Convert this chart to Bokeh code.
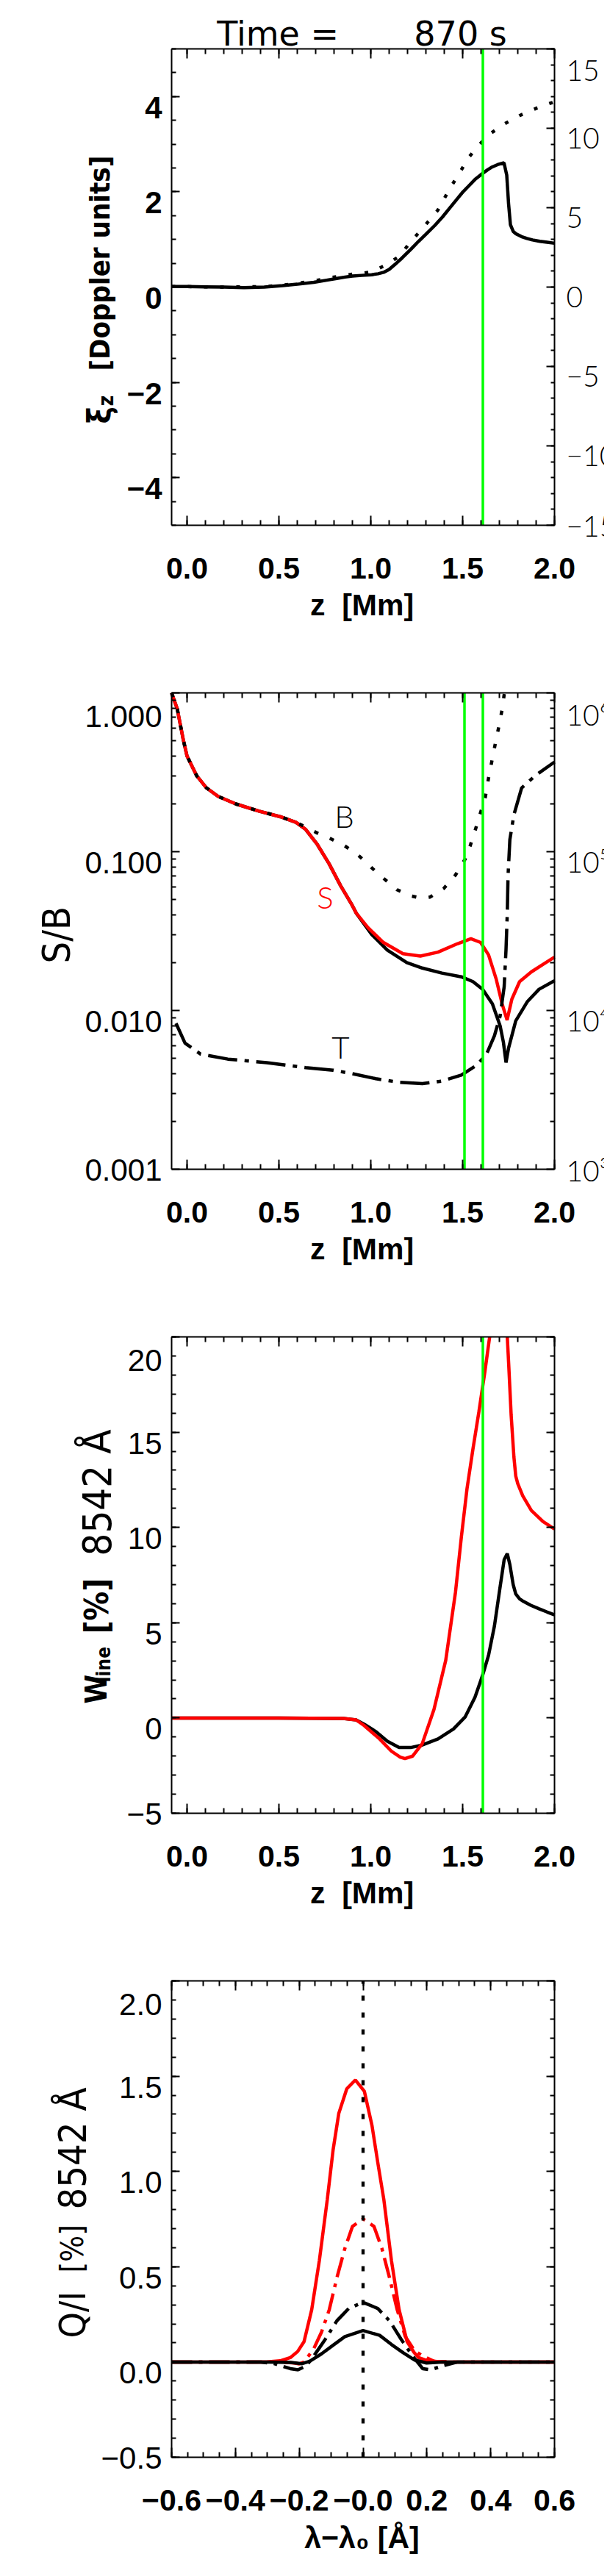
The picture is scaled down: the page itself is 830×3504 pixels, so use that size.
import math
from bokeh.plotting import figure
from bokeh.models import Range1d, LinearAxis, LogAxis, FixedTicker, Label, LogScale
from bokeh.layouts import column
from bokeh.embed import file_html
from bokeh.resources import INLINE

NAN = float("nan")

# ---------------- data ----------------
TITLE = "Time =\u00a0\u00a0\u00a0\u00a0\u00a0\u00a0\u00a0870 s"
Z_RANGE = (-0.084, 2.0)

# panel 1: xi_z (left axis, solid) and right-axis quantity (dotted)
P1_Z = [-0.084, 0.0, 0.1, 0.2, 0.31, 0.42, 0.52, 0.6, 0.69, 0.76, 0.815, 0.86, 0.9, 0.95, 1.005, 1.04, 1.07, 1.1,
        1.13, 1.17, 1.22, 1.26, 1.3, 1.35, 1.39, 1.43, 1.47, 1.5, 1.535, 1.57, 1.61, 1.635, 1.66, 1.69, 1.725, 1.74,
        1.75, 1.76, 1.775, 1.79, 1.82, 1.85, 1.88, 1.92, 1.96, 2.0]
P1_XI = [0.01, 0.01, 0.005, 0.0, -0.01, 0.0, 0.03, 0.06, 0.10, 0.145, 0.18, 0.21, 0.23, 0.245, 0.26, 0.28, 0.31, 0.37,
         0.47, 0.61, 0.80, 0.96, 1.11, 1.30, 1.47, 1.66, 1.85, 1.99, 2.13, 2.27, 2.39, 2.46, 2.52, 2.57, 2.61, 2.35,
         1.75, 1.31, 1.17, 1.12, 1.06, 1.02, 0.99, 0.96, 0.94, 0.92]
P1_ZD = [-0.084, 0.0, 0.2, 0.42, 0.52, 0.6, 0.69, 0.76, 0.815, 0.86, 0.9, 0.95, 1.005, 1.069, 1.154, 1.217, 1.281,
         1.366, 1.429, 1.482, 1.535, 1.588, 1.65, 1.725, 1.81, 1.905, 2.0]
P1_V = [0.03, 0.03, 0.0, 0.03, 0.12, 0.24, 0.39, 0.54, 0.66, 0.75, 0.81, 0.87, 0.96, 1.32, 1.92, 2.85, 3.69, 4.86,
        6.18, 7.17, 8.19, 8.94, 9.66, 10.26, 10.8, 11.28, 11.67]
P1_GREEN = [1.61]
P1_YL_TICKS = [4, 2, 0, -2, -4]
P1_YL_TEXT = ["4", "2", "0", "\u22122", "\u22124"]
P1_YR_TICKS = [15, 10, 5, 0, -5, -10, -15]
P1_YR_TEXT = ["15", "10", "5", "0", "\u22125", "\u221210", "\u221215"]

# panel 2: S/B (log)
P2_Z_BLACK = [-0.084, -0.053, -0.021, 0.0, 0.053, 0.106, 0.169, 0.265, 0.392, 0.508, 0.593, 0.646, 0.709, 0.773,
              0.836, 0.9, 0.921, 1.006, 1.09, 1.196, 1.28, 1.387, 1.493, 1.556, 1.609, 1.662, 1.704, 1.722, 1.736,
              1.75, 1.789, 1.853, 1.916, 2.0]
P2_BLACK = [1.0, 0.79, 0.51, 0.40, 0.30, 0.252, 0.223, 0.200, 0.180, 0.166, 0.153, 0.138, 0.111, 0.084, 0.061,
            0.0457, 0.041, 0.030, 0.024, 0.020, 0.0185, 0.0172, 0.0163, 0.0152, 0.0136, 0.0110, 0.0080, 0.0063,
            0.0047, 0.0058, 0.0086, 0.0114, 0.0136, 0.0154]
P2_Z_RED = [-0.084, -0.053, -0.021, 0.0, 0.053, 0.106, 0.169, 0.265, 0.392, 0.508, 0.593, 0.646, 0.709, 0.773,
            0.836, 0.9, 0.921, 0.985, 1.069, 1.175, 1.27, 1.366, 1.471, 1.545, 1.598, 1.641, 1.683, 1.715, 1.742,
            1.768, 1.81, 1.874, 1.937, 2.0]
P2_RED = [1.0, 0.79, 0.51, 0.40, 0.30, 0.252, 0.223, 0.200, 0.180, 0.166, 0.153, 0.138, 0.111, 0.084, 0.061,
          0.0457, 0.041, 0.0332, 0.0268, 0.0228, 0.0220, 0.0233, 0.0263, 0.0283, 0.0268, 0.0224, 0.0157, 0.0110,
          0.0087, 0.0118, 0.0152, 0.0175, 0.0195, 0.0217]
P2_Z_B = [-0.084, -0.053, -0.021, 0.0, 0.053, 0.106, 0.169, 0.265, 0.392, 0.508, 0.593, 0.646, 0.709, 0.773, 0.858,
          0.932, 1.006, 1.069, 1.143, 1.217, 1.28, 1.323, 1.397, 1.461, 1.514, 1.54, 1.567, 1.598, 1.623, 1.641,
          1.662, 1.683, 1.7, 1.715, 1.726, 1.728]
P2_B = [1.0, 0.79, 0.51, 0.40, 0.30, 0.252, 0.223, 0.200, 0.180, 0.166, 0.153, 0.143, 0.131, 0.122, 0.109, 0.095,
        0.079, 0.068, 0.0576, 0.0527, 0.0509, 0.0518, 0.0586, 0.0713, 0.090, 0.108, 0.135, 0.177, 0.219, 0.291,
        0.387, 0.514, 0.637, 0.789, 0.975, 1.0]
P2_Z_T = [-0.06, -0.011, 0.074, 0.222, 0.434, 0.646, 0.794, 0.9, 1.027, 1.154, 1.281, 1.387, 1.493, 1.577, 1.63,
          1.673, 1.704, 1.726, 1.736, 1.743, 1.747, 1.757, 1.779, 1.821, 1.895, 2.0]
P2_T = [8300, 6230, 5310, 4940, 4690, 4370, 4210, 4000, 3720, 3530, 3460, 3590, 3920, 4530, 5310, 6930, 9230,
        14100, 24100, 41000, 70000, 119000, 171000, 252000, 301000, 367000]
P2_GREEN = [1.51, 1.61]
P2_YL_TICKS = [1.0, 0.1, 0.01, 0.001]
P2_YL_TEXT = ["1.000", "0.100", "0.010", "0.001"]
P2_YR_TICKS = [1e6, 1e5, 1e4, 1e3]
P2_YR_TEXT = ["10\u2076", "10\u2075", "10\u2074", "10\u00b3"]
P2_TAGS = [("B", 0.856, 0.168, "black"), ("S", 0.752, 0.052, "#ff0000"), ("T", 0.836, 0.0059, "black")]

# panel 3: W_line  (NaN = curve leaves the box at the top)
P3_Z_BLACK = [-0.084, 0.5, 0.85, 0.92, 0.963, 1.027, 1.09, 1.154, 1.217, 1.28, 1.366, 1.45, 1.514, 1.567, 1.609,
              1.641, 1.673, 1.704, 1.726, 1.743, 1.757, 1.775, 1.789, 1.81, 1.831, 1.87, 1.916, 1.96, 2.0]
P3_BLACK = [0.0, 0.0, -0.02, -0.1, -0.32, -0.71, -1.22, -1.55, -1.55, -1.42, -1.10, -0.58, 0.06, 1.09, 2.25, 3.29,
            4.83, 6.89, 8.31, 8.63, 8.05, 7.0, 6.51, 6.25, 6.12, 5.92, 5.73, 5.56, 5.41]
P3_Z_RED = [-0.084, 0.5, 0.85, 0.92, 0.963, 1.048, 1.112, 1.16, 1.186, 1.228, 1.28, 1.344, 1.408, 1.461, 1.493,
            1.524, 1.556, 1.588, 1.62, 1.647, NAN, 1.743, 1.751, 1.764, 1.779, 1.789, 1.80, 1.827, 1.874, 1.937,
            2.0]
P3_RED = [0.0, 0.0, -0.02, -0.1, -0.39, -1.10, -1.74, -2.05, -2.13, -2.0, -1.35, 0.45, 3.03, 6.6, 9.5, 12.05,
          14.11, 16.04, 18.1, 20.0, NAN, 20.0, 18.5, 15.9, 13.7, 12.7, 12.3, 11.66, 10.89, 10.31, 9.92]
P3_GREEN = [1.61]
P3_YL_TICKS = [20, 15, 10, 5, 0, -5]
P3_YL_TEXT = ["20", "15", "10", "5", "0", "\u22125"]

# panel 4: Q/I profiles
P4_L_RS = [-0.6, -0.35, -0.301, -0.26, -0.228, -0.205, -0.185, -0.161, -0.137, -0.112, -0.094, -0.076, -0.051,
           -0.024, 0.004, 0.028, 0.046, 0.065, 0.089, 0.113, 0.138, 0.16, 0.174, 0.2, 0.247, 0.3, 0.6]
P4_RS = [0.0, 0.0, 0.001, 0.006, 0.023, 0.055, 0.107, 0.274, 0.532, 0.854, 1.112, 1.305, 1.434, 1.48, 1.421, 1.241,
         1.048, 0.854, 0.532, 0.274, 0.107, 0.05, 0.023, 0.008, 0.0, 0.0, 0.0]
P4_L_RD = [-0.6, -0.26, -0.215, -0.2, -0.185, -0.155, -0.13, -0.106, -0.082, -0.057, -0.033, 0.0, 0.034, 0.059,
           0.083, 0.107, 0.132, 0.162, 0.187, 0.223, 0.284, 0.6]
P4_RD = [0.0, 0.0, -0.005, -0.01, 0.0, 0.068, 0.158, 0.274, 0.442, 0.596, 0.712, 0.751, 0.712, 0.596, 0.442, 0.274,
         0.135, 0.058, 0.032, 0.003, 0.0, 0.0]
P4_L_BD = [-0.6, -0.32, -0.277, -0.228, -0.204, -0.179, -0.155, -0.118, -0.082, -0.045, 0.0, 0.046, 0.083, 0.119,
           0.156, 0.187, 0.211, 0.247, 0.296, 0.6]
P4_BD = [0.0, 0.0, -0.009, -0.035, -0.041, -0.022, 0.03, 0.12, 0.216, 0.281, 0.313, 0.281, 0.216, 0.12, 0.03,
         -0.035, -0.041, -0.022, 0.0, 0.0]
P4_L_BS = [-0.6, -0.3, -0.228, -0.191, -0.167, -0.13, -0.094, -0.057, 0.0, 0.052, 0.089, 0.126, 0.162, 0.199,
           0.247, 0.6]
P4_BS = [0.0, 0.0, -0.002, -0.009, 0.004, 0.043, 0.088, 0.133, 0.165, 0.14, 0.092, 0.048, 0.01, -0.005, 0.0, 0.0]
P4_REF = [0.0]
P4_YL_TICKS = [2.0, 1.5, 1.0, 0.5, 0.0, -0.5]
P4_YL_TEXT = ["2.0", "1.5", "1.0", "0.5", "0.0", "\u22120.5"]
P4_X_TICKS = [-0.6, -0.4, -0.2, 0.0, 0.2, 0.4, 0.6]
P4_X_TEXT = ["\u22120.6", "\u22120.4", "\u22120.2", "\u22120.0", "0.2", "0.4", "0.6"]

Z_TICKS = [0.0, 0.5, 1.0, 1.5, 2.0]
Z_TEXT = ["0.0", "0.5", "1.0", "1.5", "2.0"]

# ---------------- styling / geometry ----------------
SANS = "'Liberation Sans', Arial, sans-serif"
WIDE = "'DejaVu Sans', sans-serif"
THIN = "'Lato Light', 'Open Sans Light', Lato, sans-serif"
NARROW = "'Liberation Sans Narrow', 'DejaVu Sans Condensed', sans-serif"
RED = "#ff0000"
GREEN = "#00ff00"
LW = 4.5

FIG_W = 822
PANEL_H = 876
LAST_H = 860
PAGE = 8
FL, FW, FT, FH = 233, 521, 66, 648   # plot box inside each figure canvas
L, R = PAGE + FL, PAGE + FL + FW      # screen x of the box


class Geo:
    def __init__(self, i, h, xr, yr, log=False):
        self.T = PAGE + PANEL_H * i + FT
        self.B = self.T + FH
        self.h = h
        self.xr, self.yr, self.log = xr, yr, log

    def X(self, px):
        return self.xr[0] + (px - L) / (R - L) * (self.xr[1] - self.xr[0])

    def PX(self, x):
        return L + (x - self.xr[0]) / (self.xr[1] - self.xr[0]) * (R - L)

    def Y(self, py):
        f = (self.B - py) / FH
        if self.log:
            a, b = math.log10(self.yr[0]), math.log10(self.yr[1])
            return 10 ** (a + f * (b - a))
        return self.yr[0] + f * (self.yr[1] - self.yr[0])

    def PY(self, v, yr=None, log=None):
        yr = yr or self.yr
        log = self.log if log is None else log
        if log:
            a, b = math.log10(yr[0]), math.log10(yr[1])
            f = (math.log10(v) - a) / (b - a)
        else:
            f = (v - yr[0]) / (yr[1] - yr[0])
        return self.B - f * FH

    def ext_x(self):
        x0, x1 = self.xr
        u = (x1 - x0) / FW
        return (x0 - FL * u, x1 + (FIG_W - FL - FW) * u)

    def ext_y(self, yr=None, log=None):
        yr = yr or self.yr
        log = self.log if log is None else log
        bot = self.h - FT - FH
        if log:
            a, b = math.log10(yr[0]), math.log10(yr[1])
            u = (b - a) / FH
            return (10 ** (a - bot * u), 10 ** (b + FT * u))
        u = (yr[1] - yr[0]) / FH
        return (yr[0] - bot * u, yr[1] + FT * u)


def make_fig(g):
    p = figure(width=FIG_W, height=g.h, x_range=Range1d(*g.ext_x()), y_range=Range1d(*g.ext_y()),
               y_axis_type="log" if g.log else "linear", x_axis_location=None, y_axis_location=None,
               output_backend="svg", toolbar_location=None, min_border=0, title=None)
    for gr in p.grid:
        gr.visible = False
    p.outline_line_color = None
    p.background_fill_color = "white"
    p.border_fill_color = "white"
    return p


def style_axis(ax, ticks, minor, maj_len, min_len, bounds, loc):
    ax.ticker = FixedTicker(ticks=ticks, minor_ticks=minor)
    ax.fixed_location = loc
    ax.bounds = bounds
    ax.major_tick_in = maj_len
    ax.major_tick_out = 0
    ax.minor_tick_in = min_len
    ax.minor_tick_out = 0
    ax.major_tick_line_width = 2
    ax.minor_tick_line_width = 2
    ax.major_tick_line_color = "black"
    ax.minor_tick_line_color = "black"
    ax.axis_line_width = 2
    ax.axis_line_color = "black"
    ax.major_label_text_color = None
    ax.major_label_text_font_size = "8px"


def box_axes(p, g, xt, xminor, yt, yminor, log=False):
    for side, loc in (("below", g.yr[0]), ("above", g.yr[1])):
        ax = LinearAxis()
        style_axis(ax, xt, xminor, 13, 7, g.xr, loc)
        p.add_layout(ax, side)
    ax = LogAxis() if log else LinearAxis()
    style_axis(ax, yt, yminor, 11, 6, g.yr, g.xr[0])
    p.add_layout(ax, "left")


def vline(p, g, xs, **kw):
    for xv in xs:
        p.line([xv, xv], [g.yr[0], g.yr[1]], **kw)


def lab(p, g, px, py, text, size, font=SANS, style="normal", color="black", align="left", angle=0):
    p.add_layout(Label(x=g.X(px), y=g.Y(py), text=text, text_font=font, text_font_size=f"{size}px",
                       text_font_style=style, text_color=color, text_align=align, text_baseline="alphabetic",
                       angle=angle, angle_units="deg"))


def y_tick_labels(p, g, ticks, texts, side, size, font=SANS, style="normal", yr=None, log=None):
    cap = 0.716 * size
    for t, s in zip(ticks, texts):
        py = g.PY(t, yr, log)
        base = py + cap / 2
        if base - cap < g.T + 2:
            base = g.T + 2 + cap
        if base > g.B + 1:
            base = g.B + 1
        if side == "left":
            lab(p, g, L - 13, base, s, size, font, style, align="right")
        else:
            lab(p, g, R + 16, base, s, size, font, style, align="left")


def x_tick_labels(p, g, ticks, texts, size=41):
    for t, s in zip(ticks, texts):
        lab(p, g, g.PX(t), g.B + 58, s, size, SANS, "bold", align="center")


Z_MINOR = [round(0.1 * k, 1) for k in range(0, 21)]

# ---------------- panel 1 ----------------
g1 = Geo(0, PANEL_H, Z_RANGE, (-5, 5))
p1 = make_fig(g1)
p1.extra_y_ranges = {"r": Range1d(*g1.ext_y((-15, 15), False))}
box_axes(p1, g1, Z_TICKS, Z_MINOR, [-4, -2, 0, 2, 4], [-5 + 0.5 * k for k in range(21)])
r1 = LinearAxis(y_range_name="r")
style_axis(r1, [-15, -10, -5, 0, 5, 10, 15], list(range(-15, 16)), 11, 5, (-15, 15), Z_RANGE[1])
p1.add_layout(r1, "right")
p1.line(P1_Z, P1_XI, line_color="black", line_width=LW)
p1.line(P1_ZD, P1_V, y_range_name="r", line_color="black", line_width=LW, line_dash="5 17")
vline(p1, g1, P1_GREEN, line_color=GREEN, line_width=3.5)
lab(p1, g1, 500, 53, TITLE, 46, WIDE, "normal", align="center")
y_tick_labels(p1, g1, P1_YL_TICKS, P1_YL_TEXT, "left", 42, SANS, "bold")
y_tick_labels(p1, g1, P1_YR_TICKS, P1_YR_TEXT, "right", 39, THIN, "normal", yr=(-15, 15), log=False)
x_tick_labels(p1, g1, Z_TICKS, Z_TEXT)
lab(p1, g1, 500, g1.B + 108, "z \u00a0[Mm]", 41, SANS, "bold", align="center")
lab(p1, g1, 143, 584, "\u03be", 44, NARROW, "bold", angle=90)
lab(p1, g1, 152, 560, "z", 28, NARROW, "bold", angle=90)
lab(p1, g1, 143, 512, "[Doppler units]", 38, NARROW, "bold", angle=90)

# ---------------- panel 2 ----------------
g2 = Geo(1, PANEL_H, Z_RANGE, (0.001, 1.0), log=True)
p2 = make_fig(g2)
p2.extra_y_ranges = {"T": Range1d(*g2.ext_y((1e3, 1e6), True))}
p2.extra_y_scales = {"T": LogScale()}
logmin = [m * 10.0 ** e for e in (-3, -2, -1) for m in range(2, 10)]
box_axes(p2, g2, Z_TICKS, Z_MINOR, [0.001, 0.01, 0.1, 1.0], logmin, log=True)
r2 = LogAxis(y_range_name="T")
style_axis(r2, [1e3, 1e4, 1e5, 1e6], [m * 10.0 ** e for e in (3, 4, 5) for m in range(2, 10)], 11, 6,
           (1e3, 1e6), Z_RANGE[1])
p2.add_layout(r2, "right")
p2.line(P2_Z_BLACK, P2_BLACK, line_color="black", line_width=LW)
p2.line(P2_Z_RED, P2_RED, line_color=RED, line_width=LW)
p2.line(P2_Z_B, P2_B, line_color="black", line_width=LW, line_dash="6 17")
p2.line(P2_Z_T, P2_T, y_range_name="T", line_color="black", line_width=LW, line_dash="40 10 6 10")
vline(p2, g2, P2_GREEN, line_color=GREEN, line_width=3.5)
for t, zx, yv, col in P2_TAGS:
    p2.add_layout(Label(x=zx, y=yv, text=t, text_font=THIN, text_font_size="42px", text_color=col,
                        text_align="center", text_baseline="middle"))
y_tick_labels(p2, g2, P2_YL_TICKS, P2_YL_TEXT, "left", 42, SANS, "normal")
y_tick_labels(p2, g2, P2_YR_TICKS, P2_YR_TEXT, "right", 39, THIN, "normal", yr=(1e3, 1e6), log=True)
x_tick_labels(p2, g2, Z_TICKS, Z_TEXT)
lab(p2, g2, 500, g2.B + 108, "z \u00a0[Mm]", 41, SANS, "bold", align="center")
lab(p2, g2, 84, 1318, "S/B", 52, NARROW, "normal", angle=90)

# ---------------- panel 3 ----------------
g3 = Geo(2, PANEL_H, Z_RANGE, (-5, 20))
p3 = make_fig(g3)
w_major = [-5, 0, 5, 10, 15, 20]
w_minor = list(range(-5, 21))
box_axes(p3, g3, Z_TICKS, Z_MINOR, w_major, w_minor)
r3 = LinearAxis()
style_axis(r3, w_major, w_minor, 11, 6, g3.yr, Z_RANGE[1])
p3.add_layout(r3, "right")
p3.line(P3_Z_BLACK, P3_BLACK, line_color="black", line_width=LW)
p3.line(P3_Z_RED, P3_RED, line_color=RED, line_width=LW)
vline(p3, g3, P3_GREEN, line_color=GREEN, line_width=3.5)
y_tick_labels(p3, g3, P3_YL_TICKS, P3_YL_TEXT, "left", 42, SANS, "normal")
x_tick_labels(p3, g3, Z_TICKS, Z_TEXT)
lab(p3, g3, 500, g3.B + 108, "z \u00a0[Mm]", 41, SANS, "bold", align="center")
lab(p3, g3, 138, 2325, "W", 40, NARROW, "bold", angle=90)
lab(p3, g3, 148, 2296, "line", 26, NARROW, "bold", angle=90)
lab(p3, g3, 139, 2230, "[%]", 44, NARROW, "bold", angle=90)
lab(p3, g3, 140, 2124, "8542 \u00c5", 54, NARROW, "normal", angle=90)

# ---------------- panel 4 ----------------
g4 = Geo(3, LAST_H, (-0.6, 0.6), (-0.5, 2.0))
p4 = make_fig(g4)
lmin = [round(-0.6 + 0.05 * k, 2) for k in range(25)]
q_major = [-0.5, 0.0, 0.5, 1.0, 1.5, 2.0]
q_minor = [round(-0.5 + 0.1 * k, 1) for k in range(26)]
box_axes(p4, g4, P4_X_TICKS, lmin, q_major, q_minor)
r4 = LinearAxis()
style_axis(r4, q_major, q_minor, 11, 6, g4.yr, 0.6)
p4.add_layout(r4, "right")
p4.line(P4_L_RS, P4_RS, line_color=RED, line_width=LW)
p4.line(P4_L_RD, P4_RD, line_color=RED, line_width=LW, line_dash="28 9 5 9")
p4.line(P4_L_BD, P4_BD, line_color="black", line_width=LW, line_dash="28 9 5 9")
p4.line(P4_L_BS, P4_BS, line_color="black", line_width=LW)
vline(p4, g4, P4_REF, line_color="black", line_width=4.3, line_dash="7 16")
y_tick_labels(p4, g4, P4_YL_TICKS, P4_YL_TEXT, "left", 42, SANS, "normal")
x_tick_labels(p4, g4, P4_X_TICKS, P4_X_TEXT)
lab(p4, g4, 500, g4.B + 109, "\u03bb\u2212\u03bb\u2080 [\u00c5]", 41, SANS, "bold", align="center")
lab(p4, g4, 106, 3188, "Q/I", 50, NARROW, "normal", angle=90)
lab(p4, g4, 106, 3099, "[%]", 42, NARROW, "normal", angle=90)
lab(p4, g4, 106, 3013, "8542 \u00c5", 52, NARROW, "normal", angle=90)

layout = column(p1, p2, p3, p4)
open("out.html", "w").write(file_html(layout, INLINE, "Time = 870 s"))
